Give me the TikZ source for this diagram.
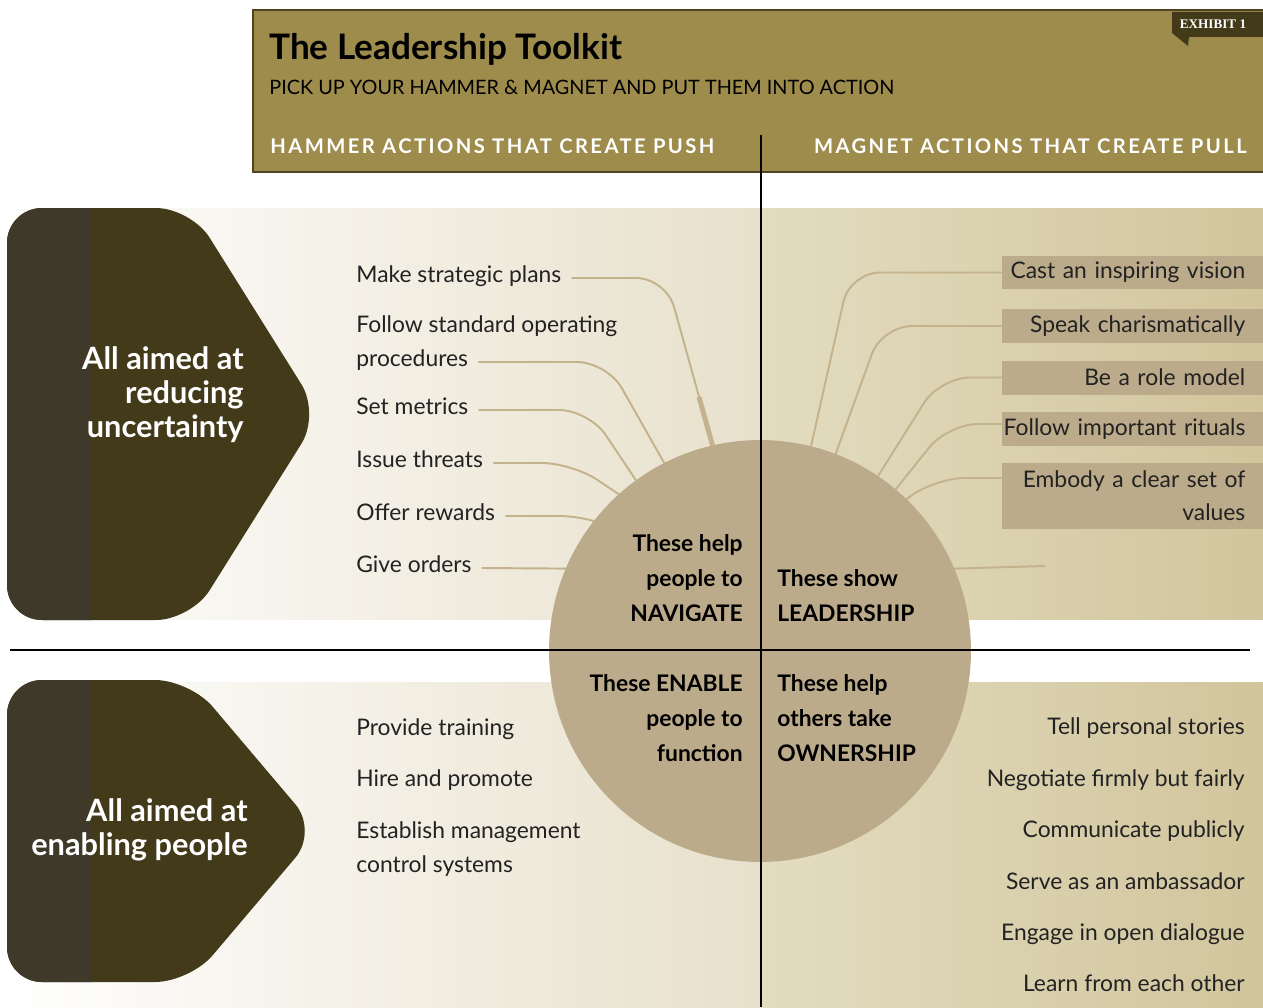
\documentclass[tikz,border=0pt]{standalone}
\usepackage{fontspec}
\setmainfont{Lato}
\newfontfamily\exhibitfont{Liberation Serif}
\definecolor{toololive}{RGB}{158,140,76}
\definecolor{tooledge}{RGB}{78,68,33}
\definecolor{tooldark}{RGB}{67,58,25}
\definecolor{toolstrip}{RGB}{62,57,40}
\definecolor{tooltan}{RGB}{188,171,138}
\definecolor{toollink}{RGB}{196,178,140}
\definecolor{bandlight}{RGB}{231,224,203}
\definecolor{bandright}{RGB}{227,220,192}
\definecolor{banddeep}{RGB}{209,197,156}
\definecolor{listgrey}{RGB}{34,34,34}
\tikzset{
  plain/.style={font=\fontsize{13}{19.3}\selectfont, text=listgrey, inner sep=0pt},
  leftitem/.style={plain, anchor=west, text height=1.9ex, text depth=1ex, inner xsep=0.2cm},
  valuebox/.style={fill=tooltan, font=\fontsize{13}{18.8}\selectfont, text=listgrey, text width=5.22cm, align=right,
    inner xsep=0pt, inner ysep=0pt, minimum height=0.68cm, anchor=west, execute at begin node={\rightskip=0.36cm}},
  hub/.style={circle, fill=tooltan, minimum size=8.44cm, inner sep=0pt, outer sep=0pt},
  hubtext/.style={font=\fontsize{13}{19.9}\selectfont\bfseries, inner sep=0pt},
  aimtext/.style={font=\fontsize{17.5}{19.3}\selectfont\bfseries, text=white, align=right, inner sep=0pt},
  headlabel/.style={font=\fontsize{11.5}{13}\selectfont\bfseries\addfontfeatures{LetterSpace=12}, text=white, inner sep=0pt},
  link/.style={draw=toollink, line width=1.1pt, rounded corners=0.6cm},
  rule/.style={draw=black, line width=1.1pt}
}

\begin{document}
\begin{tikzpicture}[x=0.02cm, y=-0.02cm]
\useasboundingbox (0,0) rectangle (1263,1007);

% header
\draw[fill=toololive, draw=tooledge, line width=1.2pt] (253,10) rectangle (1268,172);
\fill[tooldark] (1172,12) -- (1263,12) -- (1263,37) -- (1189,37) -- (1188,46) -- (1172,33) -- cycle;
\node[text=white, font=\exhibitfont\fontsize{7.5}{9}\selectfont\bfseries] (exhibit) at (1213,24) {EXHIBIT 1};
\node[anchor=base west, inner sep=0pt, font=\fontsize{20}{22}\selectfont\bfseries] (title) at (269,60) {The Leadership Toolkit};
\node[anchor=base west, inner sep=0pt, font=\fontsize{11.3}{13}\selectfont] (subtitle) at (269,94) {PICK UP YOUR HAMMER \& MAGNET AND PUT THEM INTO ACTION};
\node[headlabel, anchor=base west] (push) at (270,153) {HAMMER ACTIONS THAT CREATE PUSH};
\node[headlabel, anchor=base east] (pull) at (1247,153) {MAGNET ACTIONS THAT CREATE PULL};

% bands
\shade[left color=white, right color=bandlight] (0,208) rectangle (761,619);
\shade[left color=bandright, right color=banddeep] (761,208) rectangle (1263,619);
\shade[left color=white, right color=bandlight] (0,682) rectangle (761,1007);
\shade[left color=bandright, right color=banddeep] (761,682) rectangle (1263,1007);

% arrows
\begin{scope}
  \clip[rounded corners=0.7cm] (7,208) -- (191,208) -- (320,414) -- (191,620) -- (7,620) -- cycle;
  \fill[tooldark] (0,200) rectangle (330,630);
  \fill[toolstrip] (0,200) rectangle (92,630);
\end{scope}
\begin{scope}
  \clip[rounded corners=0.7cm] (7,680) -- (190,680) -- (318,831) -- (190,982) -- (7,982) -- cycle;
  \fill[tooldark] (0,670) rectangle (330,990);
  \fill[toolstrip] (0,670) rectangle (92,990);
\end{scope}
\node[aimtext, anchor=east] (uncertainty) at (244,395) {All aimed at\\reducing\\uncertainty};
\node[aimtext, anchor=east] (enabling) at (248,830) {All aimed at\\enabling people};

% hub
\node[hub] (hub) at (760,651) {};

% hammer actions
\node[leftitem] (plans) at (346,278) {Make strategic plans};
\node[leftitem] (sopa) at (346,328) {Follow standard operating};
\node[leftitem] (sop) at (346,362) {procedures};
\node[leftitem] (metrics) at (346,410) {Set metrics};
\node[leftitem] (threats) at (346,463) {Issue threats};
\node[leftitem] (rewards) at (346,516) {Offer rewards};
\node[leftitem] (orders) at (346,568) {Give orders};

\draw[link] (plans.east) -- (666,278) -- (hub.103);
\coordinate (grip) at (699,397);
\draw[link, line width=2.8pt] (grip) -- (hub.103);
\draw[link] (sop.east) -- (607,362) -- (hub.117);
\draw[link] (metrics.east) -- (589,410) -- (hub.126);
\draw[link] (threats.east) -- (572,463) -- (hub.132);
\draw[link, rounded corners=0.3cm] (rewards.east) -- (575,516) -- (hub.142);
\draw[link] (orders.east) -- (hub.157);

% magnet actions
\node[valuebox] (vision) at (1002,272.5) {Cast an inspiring vision};
\node[valuebox] (speak) at (1002,326) {Speak charismatically};
\node[valuebox] (model) at (1002,377.5) {Be a role model};
\node[valuebox] (rituals) at (1002,429) {Follow important rituals};
\node[valuebox, minimum height=1.32cm] (values) at (1002,496) {Embody a clear set of\\values};

\draw[link] (vision.west) -- (850,272.5) -- (hub.76.5);
\draw[link] (speak.west) -- (882,326) -- (hub.69);
\draw[link] (model.west) -- (940,377.5) -- (hub.56);
\draw[link] ([yshift=0.1cm]rituals.west) -- (948,424) -- (hub.50);
\draw[link] ([yshift=0.36cm]values.west) -- (935,478) -- (hub.46);
\coordinate (stub) at (1045,566);
\draw[link] (hub.23) -- (stub);

% quadrant texts
\node[hubtext, align=right, anchor=north east] (navigate) at (743,534) {These help\\people to\\NAVIGATE};
\node[hubtext, align=left, anchor=north west] (leadership) at (777,569) {These show\\LEADERSHIP};
\node[hubtext, align=right, anchor=north east] (enable) at (743,674) {These ENABLE\\people to\\function};
\node[hubtext, align=left, anchor=north west] (ownership) at (777,674) {These help\\others take\\OWNERSHIP};

% lower lists
\node[plain, anchor=base west] (training) at (356,735) {Provide training};
\node[plain, anchor=base west] (hire) at (356,786) {Hire and promote};
\node[plain, anchor=north west, align=left] (control) at (356,821) {Establish management\\control systems};

\node[plain, anchor=base east] (stories) at (1245,734) {Tell personal stories};
\node[plain, anchor=base east] (negotiate) at (1245,786) {Negotiate firmly but fairly};
\node[plain, anchor=base east] (publicly) at (1245,837) {Communicate publicly};
\node[plain, anchor=base east] (ambassador) at (1245,889) {Serve as an ambassador};
\node[plain, anchor=base east] (dialogue) at (1245,940) {Engage in open dialogue};
\node[plain, anchor=base east] (learn) at (1245,991) {Learn from each other};

% rules
\draw[rule] (761,135) -- (761,1007);
\draw[rule] (10,650) -- (1250,650);
\end{tikzpicture}
\end{document}
